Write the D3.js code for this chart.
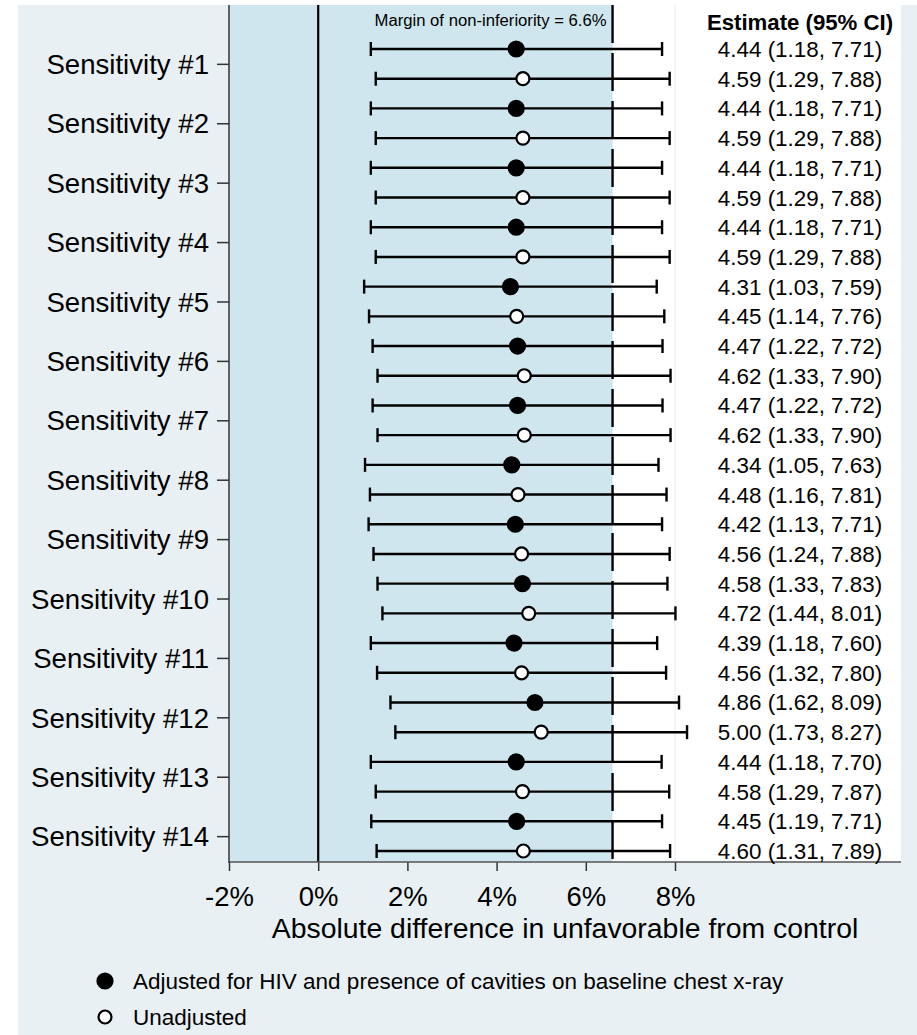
<!DOCTYPE html>
<html lang="en">
<head>
<meta charset="utf-8" />
<title>Sensitivity forest plot</title>
<script src="https://cdn.jsdelivr.net/npm/d3@7"></script>
<style>
  body { margin: 0; background: white; }
  svg { display: block; font-family: "Liberation Sans", Arial, sans-serif; }
</style>
</head>
<body>
<svg width="917" height="1035"></svg>
<script>

//	data
var labels = ["Sensitivity #1", "Sensitivity #2", "Sensitivity #3", "Sensitivity #4",
  "Sensitivity #5", "Sensitivity #6", "Sensitivity #7", "Sensitivity #8",
  "Sensitivity #9", "Sensitivity #10", "Sensitivity #11", "Sensitivity #12",
  "Sensitivity #13", "Sensitivity #14"];

var adjEst = [4.44, 4.44, 4.44, 4.44, 4.31, 4.47, 4.47, 4.34, 4.42, 4.58, 4.39, 4.86, 4.44, 4.45];
var adjLo  = [1.18, 1.18, 1.18, 1.18, 1.03, 1.22, 1.22, 1.05, 1.13, 1.33, 1.18, 1.62, 1.18, 1.19];
var adjHi  = [7.71, 7.71, 7.71, 7.71, 7.59, 7.72, 7.72, 7.63, 7.71, 7.83, 7.60, 8.09, 7.70, 7.71];

var unadjEst = [4.59, 4.59, 4.59, 4.59, 4.45, 4.62, 4.62, 4.48, 4.56, 4.72, 4.56, 5.00, 4.58, 4.60];
var unadjLo  = [1.29, 1.29, 1.29, 1.29, 1.14, 1.33, 1.33, 1.16, 1.24, 1.44, 1.32, 1.73, 1.29, 1.31];
var unadjHi  = [7.88, 7.88, 7.88, 7.88, 7.76, 7.90, 7.90, 7.81, 7.88, 8.01, 7.80, 8.27, 7.87, 7.89];

var xTicks = [-2, 0, 2, 4, 6, 8];
var margin = 6.6;

var legendLabels = ["Adjusted for HIV and presence of cavities on baseline chest x-ray", "Unadjusted"];

//	build one row per estimate, adjusted first then unadjusted
var rows = [];
labels.forEach(function(l, i) {
  rows.push({ group: i, adjusted: true, est: adjEst[i], lo: adjLo[i], hi: adjHi[i] });
  rows.push({ group: i, adjusted: false, est: unadjEst[i], lo: unadjLo[i], hi: unadjHi[i] });
});
rows.forEach(function(d, i) { d.row = i; });

//	sizing
var svg = d3.select("svg"),
  plotLeft = 229, plotRight = 901, plotTop = 5, plotBottom = 862;

var x = d3.scaleLinear().domain([-2, 8]).range([plotLeft, 675]);
var y = d3.scaleLinear().domain([0, rows.length - 1]).range([49, 851]);
var fmt = d3.format(".2f");

//	backgrounds
svg.append("rect")
  .attr("x", 18).attr("y", 5)
  .attr("width", 917 - 18).attr("height", 1035 - 5)
  .attr("fill", "#e8f0f3");

svg.append("rect")
  .attr("x", plotLeft).attr("y", plotTop)
  .attr("width", plotRight - plotLeft).attr("height", plotBottom - plotTop)
  .attr("fill", "white");

svg.append("line")
  .attr("x1", x(8)).attr("x2", x(8))
  .attr("y1", plotTop).attr("y2", plotBottom)
  .attr("stroke", "#e2ecf0").attr("stroke-width", 1);

svg.append("rect")
  .attr("x", x(-2)).attr("y", plotTop)
  .attr("width", x(margin) - x(-2)).attr("height", plotBottom - plotTop)
  .attr("fill", "#cfe6ee");

//	reference lines
svg.append("line")
  .attr("x1", x(0)).attr("x2", x(0))
  .attr("y1", plotTop).attr("y2", plotBottom)
  .attr("stroke", "black").attr("stroke-width", 2.2);

svg.append("line")
  .attr("x1", x(margin)).attr("x2", x(margin))
  .attr("y1", plotTop).attr("y2", plotBottom)
  .attr("stroke", "black").attr("stroke-width", 2.4)
  .attr("stroke-dasharray", "38,10");

svg.append("text")
  .attr("x", x(margin) - 6).attr("y", 26)
  .attr("text-anchor", "end")
  .attr("font-size", 16)
  .attr("textLength", 232)
  .attr("lengthAdjust", "spacingAndGlyphs")
  .text("Margin of non-inferiority = " + margin + "%");

//	axes
var xAxis = svg.append("g")
  .attr("transform", "translate(0," + plotBottom + ")")
  .call(d3.axisBottom(x).tickValues(xTicks).tickSize(9).tickPadding(15)
    .tickFormat(function(d) { return d + "%"; }));
xAxis.select(".domain").remove();
xAxis.append("line")
  .attr("x1", plotLeft).attr("x2", plotRight)
  .attr("stroke", "#555").attr("stroke-width", 1.5);
xAxis.selectAll(".tick line").attr("stroke", "#333").attr("stroke-width", 1.5);
xAxis.selectAll(".tick text")
  .attr("font-size", 27.5).attr("fill", "black")
  .attr("font-family", "\"Liberation Sans\", Arial, sans-serif");

var yGroup = d3.scaleLinear().domain([0, labels.length - 1]).range([y(0.5), y(rows.length - 1.5)]);
var yAxis = svg.append("g")
  .attr("transform", "translate(" + plotLeft + ",0)")
  .call(d3.axisLeft(yGroup).tickValues(d3.range(labels.length)).tickSize(12).tickPadding(8)
    .tickFormat(function(i) { return labels[i]; }));
yAxis.select(".domain").remove();
yAxis.append("line")
  .attr("y1", plotTop).attr("y2", plotBottom + 1)
  .attr("stroke", "#333").attr("stroke-width", 1.5);
yAxis.selectAll(".tick line").attr("stroke", "#333").attr("stroke-width", 1.5);
yAxis.selectAll(".tick text")
  .attr("font-size", 27.6).attr("fill", "black").attr("dy", "0.35em")
  .attr("font-family", "\"Liberation Sans\", Arial, sans-serif");

svg.append("text")
  .attr("x", (plotLeft + plotRight) / 2).attr("y", 938)
  .attr("text-anchor", "middle")
  .attr("font-size", 28.4)
  .text("Absolute difference in unfavorable from control");

//	error bars
var bars = svg.append("g").selectAll("g")
  .data(rows).enter().append("g");

bars.append("line")
  .attr("x1", function(d) { return x(d.lo); })
  .attr("x2", function(d) { return x(d.hi); })
  .attr("y1", function(d) { return y(d.row); })
  .attr("y2", function(d) { return y(d.row); })
  .attr("stroke", "black").attr("stroke-width", 2.4);

bars.selectAll(".cap")
  .data(function(d) { return [{ v: d.lo, row: d.row }, { v: d.hi, row: d.row }]; })
  .enter().append("line")
  .attr("class", "cap")
  .attr("x1", function(c) { return x(c.v); })
  .attr("x2", function(c) { return x(c.v); })
  .attr("y1", function(c) { return y(c.row) - 7; })
  .attr("y2", function(c) { return y(c.row) + 7; })
  .attr("stroke", "black").attr("stroke-width", 2.4);

bars.append("circle")
  .attr("cx", function(d) { return x(d.est); })
  .attr("cy", function(d) { return y(d.row); })
  .attr("r", function(d) { return d.adjusted ? 7.5 : 6.5; })
  .attr("fill", function(d) { return d.adjusted ? "black" : "white"; })
  .attr("stroke", "black").attr("stroke-width", 2.2);

//	estimate column
svg.append("text")
  .attr("x", 800).attr("y", 30)
  .attr("text-anchor", "middle")
  .attr("font-size", 22.2).attr("font-weight", "bold")
  .text("Estimate (95% CI)");

svg.append("g").selectAll("text")
  .data(rows).enter().append("text")
  .attr("x", 800)
  .attr("y", function(d) { return y(d.row) + 8; })
  .attr("text-anchor", "middle")
  .attr("font-size", 22.4)
  .text(function(d) { return fmt(d.est) + " (" + fmt(d.lo) + ", " + fmt(d.hi) + ")"; });

//	legend
var legend = svg.append("g").selectAll("g")
  .data(legendLabels).enter().append("g")
  .attr("transform", function(d, i) { return "translate(105," + (981 + i * 36) + ")"; });

legend.append("circle")
  .attr("r", function(d, i) { return i === 0 ? 7.5 : 6.5; })
  .attr("fill", function(d, i) { return i === 0 ? "black" : "white"; })
  .attr("stroke", "black").attr("stroke-width", 2.2);

legend.append("text")
  .attr("x", 28).attr("y", 8)
  .attr("font-size", 22.5)
  .text(function(d) { return d; });

</script>
</body>
</html>
